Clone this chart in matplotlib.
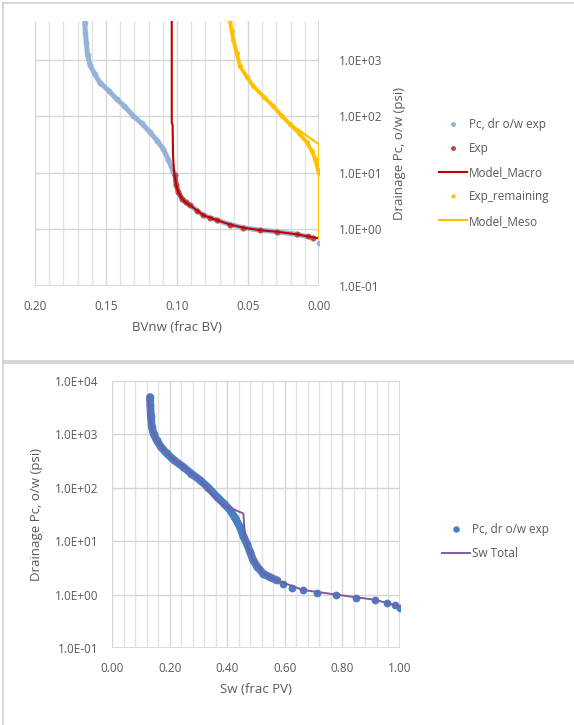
import matplotlib
matplotlib.use('Agg')
import matplotlib.pyplot as plt
import numpy as np
from matplotlib.lines import Line2D
from matplotlib.ticker import FuncFormatter, LogLocator, MultipleLocator, NullFormatter

# top panel: bulk volume of non-wetting phase vs drainage Pc
bv_exp = [0.1650, 0.1645, 0.1638, 0.1630, 0.1612, 0.1580, 0.1542, 0.1480, 0.1425,
          0.1370, 0.1308, 0.1250, 0.1190, 0.1140, 0.1096, 0.1060, 0.1026,
          0.1014, 0.1005, 0.0990, 0.0965, 0.0940, 0.0908, 0.0815, 0.0720, 0.0627,
          0.0533, 0.0415, 0.0298, 0.0157, 0.0040, 0.0000]
pc_exp = [4500, 3000, 2000, 1200, 800, 550, 390, 280, 200,
          150, 101, 75, 52, 37, 26, 17, 10.3,
          9.0, 6.0, 4.5, 3.5, 3.0, 2.67, 1.78, 1.46, 1.22,
          1.07, 0.97, 0.91, 0.82, 0.70, 0.57]

bv_red = [0.1014, 0.1005, 0.0990, 0.0965, 0.0940, 0.0908, 0.0860, 0.0815, 0.0765,
          0.0720, 0.0627, 0.0533, 0.0415, 0.0298, 0.0157, 0.0080, 0.0040]
pc_red = [9.0, 6.0, 4.5, 3.5, 3.0, 2.67, 2.1, 1.78, 1.6,
          1.46, 1.22, 1.07, 0.97, 0.91, 0.82, 0.76, 0.70]

bv_macro = [0.1037, 0.1037, 0.1031, 0.1028, 0.1020, 0.1005, 0.0990, 0.0965, 0.0940,
            0.0908, 0.0815, 0.0720, 0.0627, 0.0533, 0.0415, 0.0298, 0.0157, 0.0040, 0.0]
pc_macro = [6000, 78, 70, 20, 10, 6.0, 4.5, 3.5, 3.0,
            2.67, 1.78, 1.46, 1.22, 1.07, 0.97, 0.91, 0.82, 0.72, 0.70]

bv_rem = [0.0635, 0.0627, 0.0615, 0.0603, 0.0580, 0.0556, 0.0510, 0.0462, 0.0390,
          0.0322, 0.0260, 0.0204, 0.0140, 0.0087, 0.0050, 0.0028, 0.0005, 0.0]
pc_rem = [6000, 4900, 3200, 2240, 1300, 760, 500, 340, 220,
          150, 100, 72, 50, 34.6, 24, 17.6, 11, 10]

bv_meso = [0.0635, 0.0627, 0.0603, 0.0556, 0.0462, 0.0322, 0.0204, 0.0140, 0.0087, 0.0, 0.0]
pc_meso = [6000, 4900, 2240, 760, 340, 150, 72, 57, 45, 32, 0.70]

# bottom panel: water saturation vs drainage Pc
sw_exp = [0.132, 0.133, 0.135, 0.138, 0.145, 0.155, 0.170, 0.190, 0.215, 0.248,
          0.275, 0.306, 0.335, 0.364, 0.390, 0.410, 0.428, 0.444, 0.456, 0.468,
          0.480, 0.490, 0.505, 0.525, 0.550, 0.572,
          0.595, 0.624, 0.664, 0.713, 0.778, 0.847, 0.913, 0.954, 0.983, 1.000]
pc_sw_exp = [5000, 3500, 2200, 1390, 1000, 780, 580, 440, 330, 245,
             185, 139, 100, 68, 50, 38, 27, 18.5, 12.5, 9.0,
             6.2, 4.4, 3.3, 2.47, 2.1, 1.85,
             1.55, 1.32, 1.20, 1.07, 1.00, 0.875, 0.79, 0.71, 0.63, 0.55]
n_dense = 26

sw_total = [0.126, 0.130, 0.138, 0.155, 0.190, 0.248, 0.306, 0.375, 0.456, 0.462,
            0.468, 0.490, 0.525, 0.572, 0.664, 0.778, 0.913, 1.000]
pc_total = [5000, 2500, 1300, 780, 440, 245, 139, 51, 33, 12,
            9.0, 4.4, 2.5, 1.85, 1.22, 1.0, 0.8, 0.6]

txt = '#595959'
plt.rcParams['font.family'] = ['Open Sans', 'DejaVu Sans']
plt.rcParams['font.size'] = 8.5
plt.rcParams['text.color'] = txt

sci = FuncFormatter(lambda v, p: f'{v:.1E}')


def style(ax):
    for s in ['top', 'left', 'right', 'bottom']:
        ax.spines[s].set_visible(False)
    ax.set_yscale('log')
    ax.yaxis.set_major_locator(LogLocator(base=10, numticks=10))
    ax.yaxis.set_minor_formatter(NullFormatter())
    ax.yaxis.set_major_formatter(sci)
    ax.tick_params(which='both', length=0, colors=txt, labelsize=8.5)
    ax.grid(True, which='major', axis='both', color='#d6d6d6', lw=1.0)
    ax.grid(True, which='minor', axis='x', color='#e3e3e3', lw=1.0)
    ax.set_axisbelow(True)


fig = plt.figure(figsize=(5.74, 7.25), dpi=100)

# panel frames
for y in [1 - 3 / 725, 1 - 361 / 725, 1 - 363 / 725]:
    fig.add_artist(Line2D([3 / 574, 1], [y, y], color='#d0d0d0', lw=1.2))
fig.add_artist(Line2D([3 / 574, 3 / 574], [0, 1 - 3 / 725], color='#d0d0d0', lw=1.2))

# ---- top ----
ax1 = fig.add_axes([35 / 574, 1 - 286 / 725, 284 / 574, 265 / 725])
style(ax1)
ax1.set_xlim(0.20, 0.0)
ax1.set_ylim(0.1, 4800)
ax1.xaxis.set_major_locator(MultipleLocator(0.05))
ax1.xaxis.set_minor_locator(MultipleLocator(0.01))
ax1.xaxis.set_major_formatter(FuncFormatter(lambda v, p: f'{v:.2f}'))
ax1.yaxis.tick_right()
ax1.yaxis.set_label_position('right')
ax1.axvline(0.0, color='#d6d6d6', lw=1.2, zorder=0.5)
ax1.axhline(0.1, color='#d6d6d6', lw=1.2, zorder=0.5)
ax1.tick_params(axis='y', pad=14)
ax1.tick_params(axis='x', pad=10)

c_blue = '#95b3d7'
ax1.plot(bv_exp[:-1], pc_exp[:-1], color=c_blue, lw=3.6, solid_capstyle='round', zorder=2)
ax1.plot(bv_exp, pc_exp, 'o', color=c_blue, ms=3.2, zorder=2, label='Pc, dr o/w exp')
ax1.plot(bv_red[:6], pc_red[:6], color='#b54b4b', lw=3.2, solid_capstyle='round', zorder=3)
ax1.plot(bv_red, pc_red, 'o', color='#b54b4b', ms=3.2, zorder=3, label='Exp')
ax1.plot(bv_macro, pc_macro, color='#c00000', lw=1.5, zorder=4, label='Model_Macro')
ax1.plot(bv_rem, pc_rem, color='#ffc000', lw=2.8, solid_capstyle='round', zorder=3)
ax1.plot(bv_rem, pc_rem, 'o', color='#ffc000', ms=2.6, zorder=3, label='Exp_remaining')
ax1.plot(bv_meso, pc_meso, color='#ffc000', lw=1.5, zorder=4, label='Model_Meso')

ax1.set_xlabel('BVnw (frac BV)', color=txt, fontsize=9.5, labelpad=6)
ax1.set_ylabel('Drainage Pc, o/w (psi)', color=txt, fontsize=9.5, labelpad=8)

h, l = ax1.get_legend_handles_labels()
fig.legend(h, l, loc='upper left', bbox_to_anchor=(434 / 574, 1 - 113 / 725),
           frameon=False, fontsize=8.5, handlelength=2.4, handletextpad=0.15,
           labelspacing=0.95, borderaxespad=0, labelcolor=txt, markerscale=0.8)

# ---- bottom ----
ax2 = fig.add_axes([112 / 574, 1 - 648 / 725, 288 / 574, 267 / 725])
style(ax2)
ax2.set_xlim(0.0, 1.0)
ax2.set_ylim(0.1, 10000)
ax2.xaxis.set_major_locator(MultipleLocator(0.2))
ax2.xaxis.set_minor_locator(MultipleLocator(0.04))
ax2.xaxis.set_major_formatter(FuncFormatter(lambda v, p: f'{v:.2f}'))
ax2.axvline(1.0, color='#d6d6d6', lw=1.2, zorder=0.5)
ax2.axvline(0.0, color='#d6d6d6', lw=1.2, zorder=0.5)
ax2.axhline(0.1, color='#d6d6d6', lw=1.2, zorder=0.5)
ax2.tick_params(axis='y', pad=10)
ax2.tick_params(axis='x', pad=10)

c_b2 = '#4a7ec4'
ax2.plot(sw_exp[:n_dense], pc_sw_exp[:n_dense], color=c_b2, lw=5.6, solid_capstyle='round', zorder=2)
ax2.plot(sw_exp, pc_sw_exp, 'o', color=c_b2, ms=4.6, zorder=2, label='Pc, dr o/w exp')
ax2.plot(sw_total, pc_total, color='#7f5aa2', lw=1.4, zorder=3, label='Sw Total')

ax2.set_xlabel('Sw (frac PV)', color=txt, fontsize=9.5, labelpad=6)
ax2.set_ylabel('Drainage Pc, o/w (psi)', color=txt, fontsize=9.5, labelpad=8)

h, l = ax2.get_legend_handles_labels()
fig.legend(h, l, loc='upper left', bbox_to_anchor=(437 / 574, 1 - 518 / 725),
           frameon=False, fontsize=8.5, handlelength=2.4, handletextpad=0.15,
           labelspacing=0.95, borderaxespad=0, labelcolor=txt, markerscale=0.8)

fig.savefig('out.png', dpi=100)
